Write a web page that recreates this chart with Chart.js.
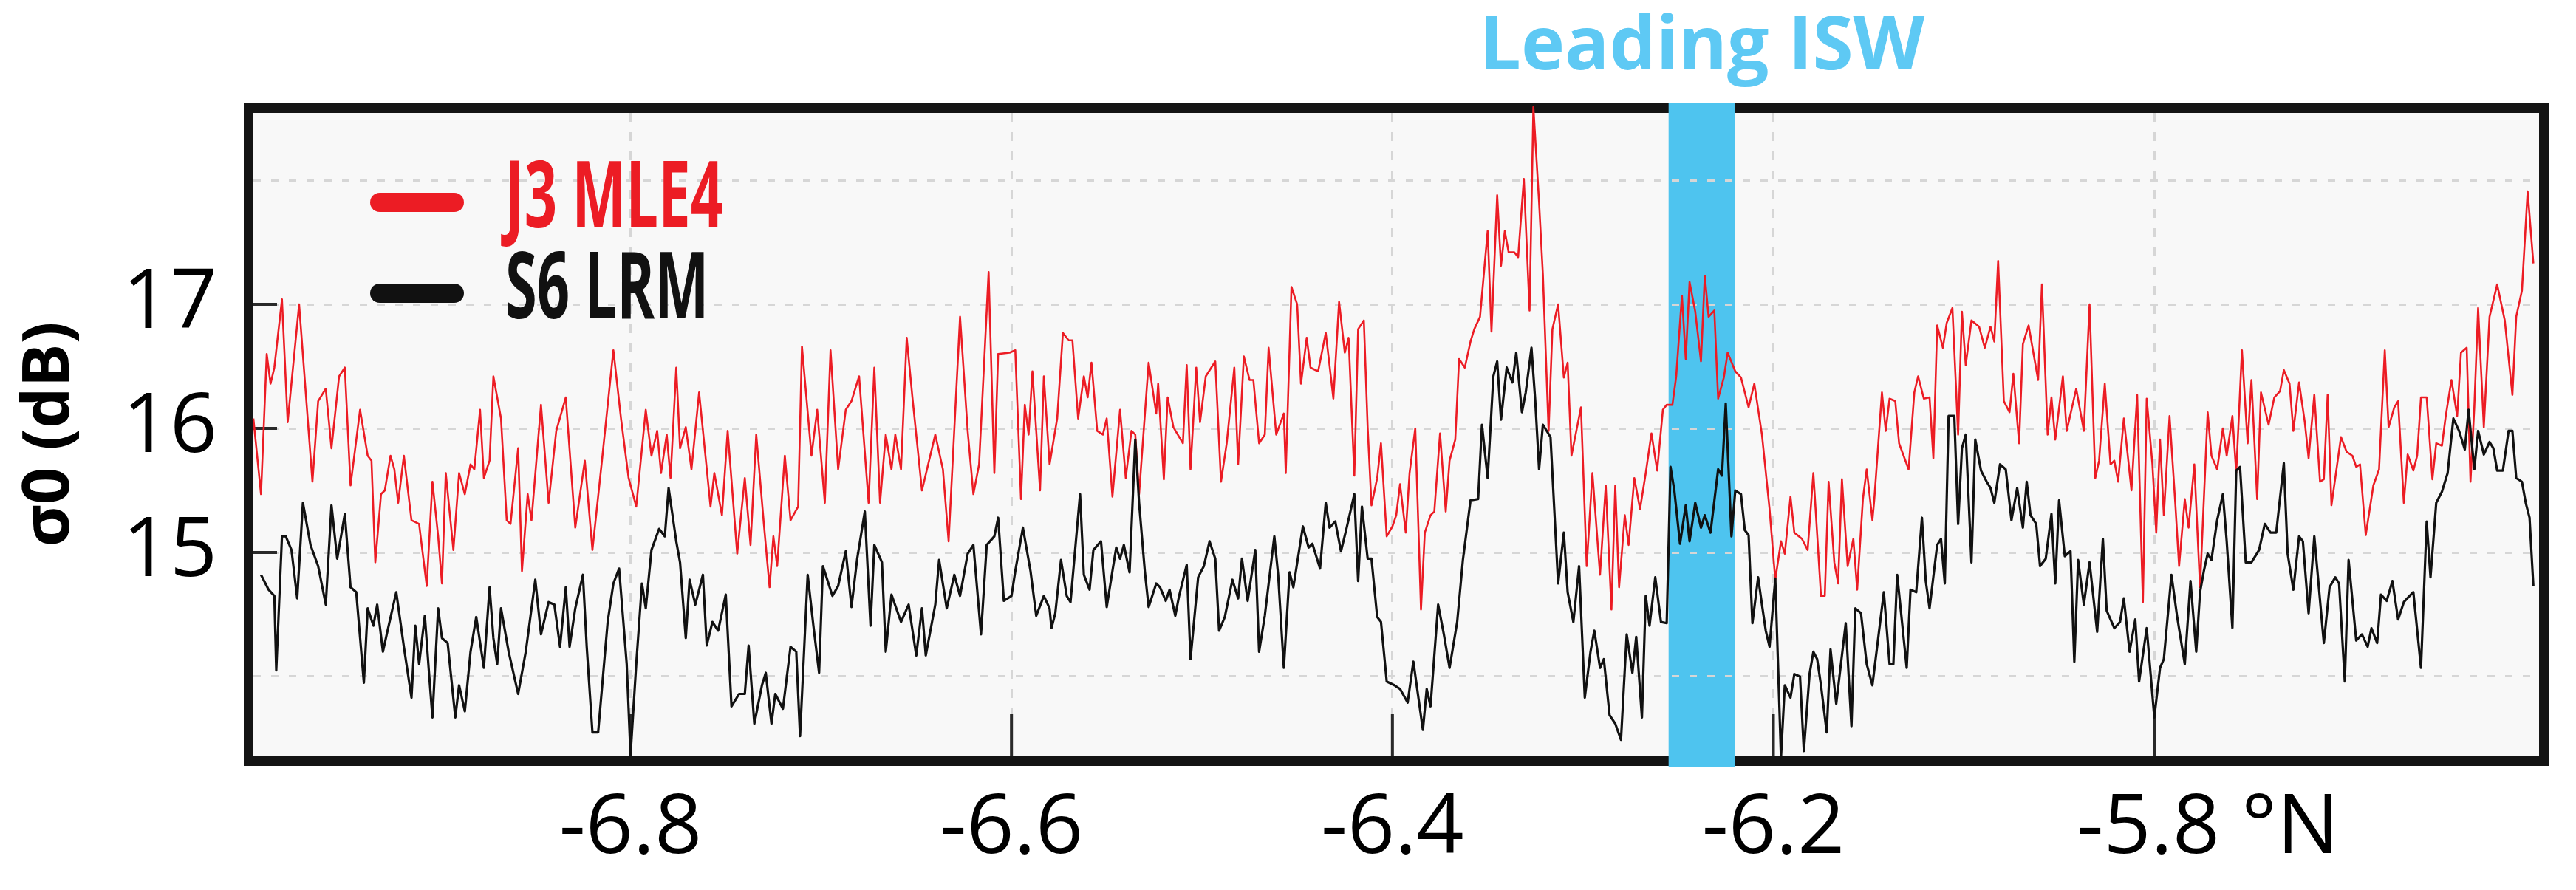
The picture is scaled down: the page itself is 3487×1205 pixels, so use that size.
<!DOCTYPE html>
<html>
<head>
<meta charset="utf-8">
<script src="https://cdn.jsdelivr.net/npm/chart.js@4.4.1/dist/chart.umd.min.js"></script>
<style>
  html, body { margin: 0; padding: 0; background: #fff; }
  #wrap { width: 3487px; height: 1205px; position: relative; }
</style>
</head>
<body>
<div id="wrap"><canvas id="sigmaChart"></canvas></div>
<script>
'use strict';

// ── Data: along-track latitude (°N) and sigma0 (dB) ──
const j3Lat = [
  -6.998,-6.994,-6.991,-6.989,-6.987,-6.983,-6.980,-6.974,-6.967,-6.964,
  -6.960,-6.957,-6.953,-6.950,-6.947,-6.942,-6.938,-6.936,-6.934,-6.931,
  -6.929,-6.926,-6.924,-6.922,-6.919,-6.915,-6.911,-6.907,-6.904,-6.901,
  -6.899,-6.897,-6.893,-6.890,-6.887,-6.884,-6.882,-6.879,-6.877,-6.874,
  -6.872,-6.868,-6.865,-6.863,-6.859,-6.857,-6.854,-6.852,-6.847,-6.843,
  -6.839,-6.834,-6.829,-6.824,-6.820,-6.815,-6.809,-6.805,-6.801,-6.797,
  -6.792,-6.789,-6.786,-6.784,-6.781,-6.779,-6.776,-6.774,-6.771,-6.768,
  -6.764,-6.758,-6.756,-6.752,-6.749,-6.744,-6.740,-6.737,-6.734,-6.730,
  -6.727,-6.725,-6.723,-6.719,-6.716,-6.712,-6.710,-6.705,-6.702,-6.698,
  -6.695,-6.691,-6.687,-6.684,-6.680,-6.675,-6.672,-6.669,-6.666,-6.663,
  -6.661,-6.658,-6.655,-6.652,-6.647,-6.640,-6.636,-6.633,-6.627,-6.623,
  -6.620,-6.617,-6.612,-6.609,-6.607,
  -6.601,-6.598,-6.595,-6.593,-6.591,-6.589,-6.585,-6.583,-6.580,-6.576,
  -6.573,-6.570,-6.568,-6.565,-6.562,-6.560,-6.558,-6.555,-6.552,-6.550,
  -6.547,-6.543,-6.540,-6.537,-6.535,-6.533,-6.528,-6.524,-6.523,-6.520,
  -6.518,-6.515,-6.510,-6.508,-6.506,-6.503,-6.501,-6.498,-6.493,-6.490,
  -6.487,-6.483,-6.481,-6.478,-6.475,-6.473,-6.470,-6.467,-6.465,-6.461,
  -6.457,-6.456,-6.453,-6.450,-6.448,-6.445,-6.443,-6.439,-6.435,-6.431,
  -6.428,-6.425,-6.423,-6.420,-6.418,-6.415,-6.413,-6.411,-6.408,-6.406,
  -6.403,-6.400,-6.398,-6.396,-6.393,-6.391,-6.388,-6.385,-6.383,-6.380,
  -6.378,-6.375,-6.372,-6.370,-6.367,-6.365,-6.362,-6.359,-6.357,-6.354,
  -6.350,-6.348,-6.345,-6.343,-6.341,-6.339,-6.336,-6.334,-6.331,-6.328,
  -6.326,-6.323,-6.321,-6.318,-6.316,-6.313,-6.310,-6.308,-6.306,-6.301,
  -6.298,-6.295,-6.291,-6.288,-6.285,-6.283,-6.281,-6.278,-6.276,-6.273,
  -6.270,-6.267,-6.264,-6.261,-6.258,-6.256,-6.253,-6.251,-6.248,-6.246,
  -6.244,-6.241,-6.238,-6.236,-6.234,-6.231,-6.229,-6.226,-6.224,-6.220,
  -6.217,-6.213,-6.210,-6.206,
  -6.202,-6.199,-6.196,-6.194,-6.191,-6.189,-6.185,-6.182,-6.179,-6.175,
  -6.173,-6.171,-6.168,-6.166,-6.164,-6.161,-6.158,-6.156,-6.153,-6.151,
  -6.148,-6.147,-6.143,-6.141,-6.139,-6.136,-6.134,-6.129,-6.126,-6.124,
  -6.121,-6.118,-6.116,-6.114,-6.111,-6.109,-6.106,-6.103,-6.101,-6.099,
  -6.096,-6.092,-6.089,-6.086,-6.084,-6.082,-6.079,-6.076,-6.074,-6.071,
  -6.069,-6.066,-6.061,-6.059,-6.056,-6.054,-6.052,-6.048,-6.046,-6.041,
  -6.037,-6.034,-6.031,-6.029,-6.026,-6.023,-6.021,-6.019,-6.016,-6.012,
  -6.009,-6.006,-6.004,-6.001,-5.999,-5.997,-5.995,-5.992,-5.989,-5.987,
  -5.984,-5.982,-5.979,-5.976,-5.972,-5.970,-5.967,-5.964,-5.962,-5.959,
  -5.957,-5.954,-5.951,-5.949,-5.946,-5.944,-5.940,-5.937,-5.934,-5.932,
  -5.929,-5.927,-5.924,-5.921,-5.919,-5.916,-5.913,-5.911,-5.909,-5.907,
  -5.902,-5.899,-5.896,-5.894,-5.892,-5.889,-5.885,-5.882,-5.879,-5.877,
  -5.874,-5.872,-5.869,-5.867,-5.864,-5.862,-5.860,-5.857,-5.854,-5.852,
  -5.849,-5.847,-5.844,-5.841,-5.839,-5.836,-5.834,-5.832,-5.830,-5.827,
  -5.824,-5.820,-5.816,-5.812,-5.810,-5.807,-5.804,-5.801
];

const j3Sigma = [
  16.08,15.47,16.60,16.36,16.49,17.04,16.05,17.00,15.57,16.22,
  16.32,15.84,16.42,16.49,15.54,16.15,15.78,15.74,14.92,15.47,
  15.50,15.78,15.67,15.40,15.78,15.26,15.23,14.73,15.57,15.13,
  14.75,15.64,15.02,15.64,15.47,15.71,15.67,16.15,15.60,15.74,
  16.42,16.08,15.26,15.23,15.84,14.85,15.47,15.26,16.19,15.40,
  15.98,16.25,15.20,15.74,15.02,15.74,16.63,16.08,15.60,15.37,
  16.15,15.78,15.98,15.64,15.95,15.60,16.49,15.84,16.01,15.67,
  16.29,15.37,15.64,15.30,15.98,14.99,15.60,15.06,15.95,15.23,
  14.72,15.13,14.89,15.78,15.26,15.37,16.66,15.78,16.15,15.40,
  16.63,15.67,16.15,16.22,16.42,15.40,16.49,15.40,15.95,15.67,
  15.95,15.67,16.73,16.25,15.50,15.95,15.67,15.09,16.90,15.98,
  15.47,15.71,17.26,15.64,16.60,
  16.61,16.63,15.43,16.19,15.95,16.46,15.50,16.42,15.71,16.08,
  16.77,16.71,16.71,16.08,16.42,16.25,16.53,15.98,15.95,16.08,
  15.45,16.15,15.60,15.98,15.95,15.47,16.53,16.12,16.36,15.59,
  16.25,16.01,15.88,16.51,15.67,16.49,16.05,16.42,16.54,15.57,
  15.88,16.49,15.71,16.58,16.39,16.39,15.88,15.95,16.65,15.95,
  16.12,15.64,17.14,17.00,16.36,16.73,16.49,16.46,16.77,16.24,
  17.02,16.61,16.73,15.62,16.80,16.87,16.01,15.38,15.60,15.88,
  15.13,15.21,15.30,15.55,15.16,15.64,16.00,14.54,15.16,15.30,
  15.33,15.96,15.33,15.74,15.91,16.56,16.49,16.70,16.80,16.90,
  17.59,16.78,17.88,17.31,17.59,17.42,17.42,17.38,18.01,16.95,
  18.59,17.82,17.24,15.98,16.80,17.00,16.41,16.53,15.78,16.17,
  14.89,15.64,14.82,15.54,14.54,15.54,14.72,15.30,15.06,15.60,
  15.35,15.64,15.96,15.66,16.15,16.19,16.19,16.42,17.07,16.56,
  17.18,16.94,16.54,17.23,16.90,16.95,16.24,16.41,16.61,16.46,
  16.41,16.17,16.36,15.95,
  15.35,14.78,15.09,14.99,15.45,15.16,15.11,15.02,15.64,14.65,
  14.65,15.57,14.92,14.75,15.59,14.89,15.11,14.70,15.43,15.67,
  15.26,15.43,16.29,15.98,16.24,16.22,15.88,15.67,16.29,16.42,
  16.24,16.25,15.76,16.83,16.65,16.85,16.97,15.95,16.94,16.51,
  16.87,16.82,16.65,16.82,16.70,17.35,16.22,16.13,16.44,15.88,
  16.68,16.83,16.39,17.16,15.95,16.25,15.91,16.42,15.98,16.32,
  15.98,17.00,15.60,15.74,16.36,15.71,15.74,15.57,16.08,15.50,
  16.27,14.60,16.24,15.71,15.16,15.91,15.30,16.10,15.40,14.89,
  15.43,15.20,15.71,14.72,16.13,15.78,15.67,16.00,15.78,16.10,
  15.64,16.63,15.88,16.39,15.43,16.29,16.03,16.25,16.30,16.47,
  16.36,15.98,16.37,16.05,15.76,16.27,15.57,15.59,16.27,15.38,
  15.93,15.81,15.78,15.69,15.71,15.14,15.54,15.67,16.63,16.01,
  16.17,16.22,15.40,15.79,15.66,15.78,16.25,16.25,15.59,15.88,
  15.86,16.10,16.39,16.10,16.61,16.65,15.57,16.17,16.97,16.01,
  16.90,17.16,16.87,16.27,16.90,17.11,17.91,17.33
];

const s6Lat = [
  -6.994,-6.990,-6.987,-6.986,-6.983,-6.981,-6.978,-6.975,-6.972,-6.968,
  -6.964,-6.960,-6.957,-6.954,-6.950,-6.947,-6.944,-6.940,-6.938,-6.935,
  -6.933,-6.930,-6.928,-6.923,-6.919,-6.915,-6.913,-6.911,-6.908,-6.906,
  -6.904,-6.901,-6.899,-6.896,-6.892,-6.890,-6.887,-6.884,-6.881,-6.877,
  -6.874,-6.872,-6.870,-6.868,-6.864,-6.859,-6.855,-6.850,-6.847,-6.843,
  -6.840,-6.837,-6.834,-6.832,-6.829,-6.825,-6.823,-6.820,-6.817,-6.812,
  -6.809,-6.806,-6.802,-6.800,-6.797,-6.794,-6.792,-6.789,-6.785,-6.782,
  -6.780,-6.776,-6.774,-6.771,-6.769,-6.766,-6.762,-6.760,-6.757,-6.754,
  -6.750,-6.747,-6.743,-6.740,-6.738,-6.735,-6.731,-6.729,-6.726,-6.724,
  -6.720,-6.716,-6.713,-6.711,-6.707,-6.704,-6.701,-6.699,-6.694,-6.691,
  -6.687,-6.684,-6.681,-6.677,-6.674,-6.672,-6.668,-6.666,-6.663,-6.658,
  -6.654,-6.650,-6.647,-6.645,-6.640,-6.638,-6.634,-6.630,-6.627,-6.623,
  -6.620,-6.616,-6.613,-6.609,-6.607,-6.604,
  -6.600,-6.598,-6.594,-6.590,-6.587,-6.583,-6.580,-6.579,-6.577,-6.574,
  -6.571,-6.569,-6.564,-6.562,-6.559,-6.557,-6.553,-6.550,-6.547,-6.545,
  -6.543,-6.541,-6.538,-6.535,-6.533,-6.530,-6.528,-6.524,-6.522,-6.519,
  -6.517,-6.514,-6.512,-6.508,-6.506,-6.502,-6.499,-6.496,-6.493,-6.491,
  -6.488,-6.484,-6.481,-6.479,-6.476,-6.472,-6.470,-6.467,-6.462,-6.460,
  -6.457,-6.454,-6.452,-6.447,-6.444,-6.442,-6.438,-6.435,-6.433,-6.430,
  -6.427,-6.424,-6.420,-6.418,-6.416,-6.413,-6.411,-6.408,-6.406,-6.403,
  -6.399,-6.396,-6.392,-6.389,-6.384,-6.382,-6.380,-6.376,-6.373,-6.370,
  -6.366,-6.363,-6.359,-6.355,-6.353,-6.350,-6.347,-6.345,-6.343,-6.340,
  -6.337,-6.335,-6.332,-6.330,-6.327,-6.325,-6.323,-6.321,-6.317,-6.313,
  -6.310,-6.308,-6.305,-6.302,-6.299,-6.296,-6.294,-6.291,-6.289,-6.286,
  -6.283,-6.280,-6.277,-6.274,-6.272,-6.269,-6.267,-6.265,-6.262,-6.259,
  -6.256,-6.254,-6.252,-6.249,-6.246,-6.244,-6.241,-6.238,-6.236,-6.233,
  -6.229,-6.227,-6.225,-6.222,-6.220,-6.217,-6.215,-6.213,-6.211,-6.208,
  -6.206,
  -6.204,-6.202,-6.199,-6.196,-6.194,-6.191,-6.189,-6.186,-6.184,-6.181,
  -6.179,-6.177,-6.175,-6.172,-6.170,-6.167,-6.164,-6.162,-6.159,-6.157,
  -6.154,-6.151,-6.148,-6.142,-6.139,-6.137,-6.135,-6.130,-6.128,-6.125,
  -6.122,-6.120,-6.118,-6.114,-6.112,-6.110,-6.108,-6.105,-6.103,-6.101,
  -6.099,-6.096,-6.094,-6.091,-6.088,-6.086,-6.084,-6.081,-6.078,-6.075,
  -6.072,-6.069,-6.067,-6.065,-6.062,-6.060,-6.057,-6.054,-6.052,-6.050,
  -6.047,-6.044,-6.042,-6.040,-6.037,-6.034,-6.030,-6.027,-6.025,-6.021,
  -6.018,-6.016,-6.013,-6.010,-6.008,-6.004,-6.000,-5.997,-5.995,-5.991,
  -5.988,-5.984,-5.981,-5.978,-5.976,-5.974,-5.972,-5.970,-5.967,-5.964,
  -5.962,-5.959,-5.957,-5.955,-5.952,-5.949,-5.945,-5.942,-5.939,-5.936,
  -5.932,-5.930,-5.927,-5.924,-5.922,-5.919,-5.916,-5.911,-5.908,-5.905,
  -5.903,-5.900,-5.898,-5.894,-5.891,-5.888,-5.886,-5.883,-5.881,-5.878,
  -5.875,-5.872,-5.869,-5.866,-5.864,-5.860,-5.857,-5.855,-5.852,-5.849,
  -5.846,-5.843,-5.840,-5.837,-5.835,-5.832,-5.830,-5.827,-5.824,-5.822,
  -5.820,-5.817,-5.814,-5.812,-5.810,-5.807,-5.805,-5.803,-5.801
];

const s6Sigma = [
  14.82,14.70,14.65,14.05,15.13,15.13,15.02,14.63,15.40,15.06,
  14.89,14.58,15.38,14.95,15.31,14.72,14.68,13.95,14.55,14.41,
  14.58,14.20,14.34,14.68,14.24,13.83,14.41,14.10,14.49,14.07,
  13.67,14.55,14.31,14.27,13.67,13.93,13.72,14.20,14.48,14.07,
  14.72,14.31,14.10,14.55,14.20,13.86,14.20,14.78,14.34,14.60,
  14.58,14.24,14.72,14.24,14.55,14.82,14.24,13.55,13.55,14.44,
  14.75,14.87,14.10,13.37,14.10,14.75,14.55,15.02,15.19,15.13,
  15.52,15.09,14.92,14.31,14.78,14.58,14.82,14.25,14.44,14.37,
  14.66,13.76,13.86,13.86,14.25,13.62,13.93,14.03,13.62,13.86,
  13.74,14.24,14.20,13.52,14.82,14.41,14.03,14.89,14.65,14.73,
  15.01,14.56,14.95,15.33,14.41,15.06,14.92,14.20,14.66,14.44,
  14.58,14.17,14.55,14.17,14.58,14.94,14.55,14.82,14.65,14.99,
  15.06,14.34,15.06,15.13,15.28,14.61,
  14.65,14.85,15.20,14.85,14.49,14.65,14.55,14.39,14.51,14.94,
  14.65,14.60,15.47,14.82,14.70,15.02,15.09,14.56,14.85,15.04,
  14.95,15.06,14.84,15.91,15.40,14.85,14.56,14.75,14.72,14.61,
  14.70,14.49,14.65,14.90,14.14,14.80,14.89,15.09,14.95,14.37,
  14.48,14.78,14.63,14.95,14.61,15.02,14.20,14.49,15.13,14.82,
  14.07,14.84,14.72,15.21,15.04,15.07,14.87,15.40,15.20,15.25,
  15.01,15.20,15.47,14.77,15.37,14.95,14.95,14.48,14.44,13.96,
  13.93,13.90,13.79,14.12,13.57,13.90,13.76,14.58,14.34,14.07,
  14.44,14.94,15.42,15.43,16.03,15.60,16.42,16.54,16.07,16.49,
  16.37,16.61,16.13,16.29,16.65,16.22,15.67,16.03,15.93,14.75,
  15.16,14.68,14.44,14.89,13.83,14.20,14.37,14.07,14.14,13.69,
  13.62,13.49,14.34,14.03,14.32,13.67,14.65,14.41,14.80,14.44,
  14.43,15.69,15.50,15.07,15.38,15.09,15.40,15.20,15.30,15.16,
  15.67,15.62,16.20,15.13,15.50,15.47,15.18,15.14,14.43,14.80,
  14.58,
  14.37,14.24,14.79,13.35,13.93,13.83,14.02,14.00,13.40,14.02,
  14.20,14.14,13.93,13.55,14.22,13.78,14.17,14.43,13.60,14.55,
  14.51,14.10,13.93,14.68,14.10,14.10,14.82,14.07,14.70,14.68,
  15.28,14.77,14.55,15.06,15.11,14.75,16.10,16.10,15.23,15.84,
  15.95,14.92,15.91,15.66,15.57,15.52,15.40,15.71,15.67,15.26,
  15.52,15.20,15.57,15.30,15.23,14.89,14.95,15.31,14.75,15.42,
  14.97,15.01,14.12,14.94,14.58,14.92,14.36,15.11,14.53,14.39,
  14.44,14.63,14.20,14.46,13.96,14.39,13.67,14.07,14.14,14.82,
  14.48,14.10,14.77,14.20,14.68,14.85,14.99,14.94,15.26,15.47,
  15.09,14.39,15.66,15.69,14.92,14.92,15.02,15.23,15.16,15.16,
  15.72,14.99,14.70,15.13,15.09,14.51,15.13,14.27,14.72,14.80,
  14.75,13.96,14.94,14.29,14.34,14.24,14.39,14.27,14.66,14.61,
  14.77,14.46,14.60,14.65,14.68,14.07,15.25,14.80,15.40,15.49,
  15.64,16.08,15.98,15.83,16.15,15.67,15.98,15.79,15.89,15.84,
  15.66,15.66,15.98,15.98,15.60,15.57,15.40,15.28,14.73
];

const SERIES_LABELS = ['J3 MLE4', 'S6 LRM'];
const X_TICKS       = [-6.8, -6.6, -6.4, -6.2, -6.0];
const X_TICK_LABELS = ['-6.8', '-6.6', '-6.4', '-6.2', '     -5.8 °N'];
const Y_GRID        = [14, 15, 16, 17, 18];
const Y_TICK_LABELS = [15, 16, 17];
const X_RANGE       = [-6.998, -5.798];
const Y_RANGE       = [13.363, 18.542];
const ISW_BAND      = [-6.255, -6.220];
const ISW_LABEL     = 'Leading ISW';
const Y_TITLE       = 'σ0 (dB)';

// ── Theme ──
const THEME = {
  red:      '#ec1c24',
  black:    '#111111',
  band:     '#4ec4ef',
  bandText: '#5ec9f4',
  grid:     '#d6d6d6',
  plotBg:   '#f8f8f8',
  frame:    '#141414',
  text:     '#000000',
};
const FONT = "'Open Sans', 'DejaVu Sans', sans-serif";

// background, frame and ISW band, under the grid
const framePlugin = {
  id: 'frame',
  beforeDraw(chart) {
    const { ctx, chartArea: a, scales: { x } } = chart;
    ctx.save();
    ctx.fillStyle = '#ffffff';
    ctx.fillRect(0, 0, chart.width, chart.height);
    ctx.fillStyle = THEME.plotBg;
    ctx.fillRect(a.left, a.top, a.right - a.left, a.bottom - a.top);
    ctx.strokeStyle = THEME.frame;
    ctx.lineWidth = 13;
    ctx.strokeRect(a.left - 6.5, a.top - 6.5, a.right - a.left + 13, a.bottom - a.top + 14);
    const x0 = x.getPixelForValue(ISW_BAND[0]);
    const x1 = x.getPixelForValue(ISW_BAND[1]);
    ctx.fillStyle = THEME.band;
    ctx.fillRect(x0, a.top - 13, x1 - x0, a.bottom - a.top + 28);
    ctx.restore();
  },
  // short inward tick marks
  beforeDatasetsDraw(chart) {
    const { ctx, chartArea: a, scales: { x, y } } = chart;
    ctx.save();
    ctx.strokeStyle = '#2a2a2a';
    ctx.lineWidth = 4;
    ctx.beginPath();
    Y_TICK_LABELS.forEach(v => {
      const py = y.getPixelForValue(v);
      ctx.moveTo(a.left, py);
      ctx.lineTo(a.left + 32, py);
    });
    X_TICKS.forEach(v => {
      const px = x.getPixelForValue(v);
      ctx.moveTo(px, a.bottom);
      ctx.lineTo(px, a.bottom - 56);
    });
    ctx.stroke();
    ctx.restore();
  },
  // band label and legend
  afterDraw(chart) {
    const { ctx, scales: { x } } = chart;
    ctx.save();
    const cx = (x.getPixelForValue(ISW_BAND[0]) + x.getPixelForValue(ISW_BAND[1])) / 2;
    ctx.font = `bold 100px ${FONT}`;
    ctx.fillStyle = THEME.bandText;
    ctx.textAlign = 'center';
    ctx.textBaseline = 'alphabetic';
    ctx.fillText(ISW_LABEL, cx, 94);

    ctx.font = `bold 126px ${FONT}`;
    ctx.textAlign = 'left';
    const squeeze = 295 / ctx.measureText(chart.data.datasets[0].label).width;
    chart.data.datasets.forEach((ds, i) => {
      const yc = 274 + i * 123;
      ctx.strokeStyle = ds.borderColor;
      ctx.lineWidth = 26;
      ctx.lineCap = 'round';
      ctx.beginPath();
      ctx.moveTo(514, yc);
      ctx.lineTo(615, yc);
      ctx.stroke();
      ctx.save();
      ctx.translate(684, yc + 34);
      ctx.scale(squeeze, 1);
      ctx.fillStyle = ds.borderColor;
      ctx.fillText(ds.label, 0, 0);
      ctx.restore();
    });
    ctx.restore();
  },
};

const toPoints = (lat, sig) => lat.map((v, i) => ({ x: v, y: sig[i] }));

const ctx = document.getElementById('sigmaChart').getContext('2d');
new Chart(ctx, {
  type: 'line',
  data: {
    datasets: [
      {
        label: SERIES_LABELS[0],
        data: toPoints(j3Lat, j3Sigma),
        borderColor: THEME.red,
        borderWidth: 2.6,
        borderJoinStyle: 'round',
        pointRadius: 0,
        tension: 0,
        clip: false,
        order: 2,
      },
      {
        label: SERIES_LABELS[1],
        data: toPoints(s6Lat, s6Sigma),
        borderColor: THEME.black,
        borderWidth: 3.2,
        borderJoinStyle: 'round',
        pointRadius: 0,
        tension: 0,
        clip: false,
        order: 1,
      },
    ],
  },
  options: {
    responsive: true,
    maintainAspectRatio: false,
    animation: false,
    events: [],
    layout: { padding: { left: 0, top: 153, right: 50, bottom: 0 } },
    plugins: {
      legend: { display: false },
      tooltip: { enabled: false },
    },
    scales: {
      x: {
        type: 'linear',
        min: X_RANGE[0],
        max: X_RANGE[1],
        afterFit: s => { s.height = 182; },
        afterBuildTicks: s => { s.ticks = X_TICKS.map(v => ({ value: v })); },
        grid: { color: THEME.grid, lineWidth: 3, drawTicks: false },
        border: { display: false, dash: [12, 14] },
        ticks: {
          padding: 33,
          maxRotation: 0,
          autoSkip: false,
          color: THEME.text,
          font: { family: FONT, size: 112 },
          callback: (v, i) => X_TICK_LABELS[i],
        },
      },
      y: {
        type: 'linear',
        min: Y_RANGE[0],
        max: Y_RANGE[1],
        afterFit: s => { s.width = 343; },
        afterBuildTicks: s => { s.ticks = Y_GRID.map(v => ({ value: v })); },
        grid: { color: THEME.grid, lineWidth: 3, drawTicks: false },
        border: { display: false, dash: [10, 14] },
        ticks: {
          padding: 49,
          color: THEME.text,
          font: { family: FONT, size: 112 },
          callback: v => (Y_TICK_LABELS.includes(v) ? String(v) : ''),
        },
        title: {
          display: true,
          text: Y_TITLE,
          color: THEME.text,
          font: { family: FONT, size: 88, weight: 'bold' },
          padding: { top: 15, bottom: 0 },
        },
      },
    },
  },
  plugins: [framePlugin],
});
</script>
</body>
</html>
